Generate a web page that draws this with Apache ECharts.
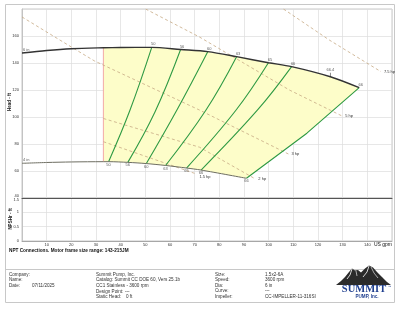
<!DOCTYPE html>
<html><head><meta charset="utf-8">
<script src="https://cdn.jsdelivr.net/npm/echarts@6/dist/echarts.min.js"></script>
<style>html,body{margin:0;padding:0;background:#fff}#c{width:400px;height:309px}</style>
</head><body><div id="c"></div>
<script>
// ---------- data ----------
const curve6in = [[0,147.4],[10,149.3],[20,150.6],[33,151.3],[40,151.5],[52.6,151.6],[64.3,150.0],[75.3,148.4],[87.0,144.7],[99.9,140.2],[109.3,137.3],[125.0,129.8],[136.7,121.7]];
const curve4in = [[0,65.7],[10,66.3],[20,66.7],[33,66.9],[35.1,66.9],[42.9,66.4],[50.4,65.5],[58.2,64.1],[66.7,62.2],[72.6,60.7],[91.0,54.6]];
const minFlow = [[33,66.9],[33,151.3]];
const eff50 = [[35.1,66.9],[43.8,105.2],[52.6,151.6]];
const eff56 = [[42.9,66.4],[53.9,103.7],[64.3,150.0]];
const eff60 = [[50.4,65.5],[62.8,105.2],[75.3,148.4]];
const eff63 = [[58.2,64.1],[74.6,105.2],[87.0,144.7]];
const eff65 = [[66.7,62.2],[86.8,105.2],[99.9,140.2]];
const eff66 = [[72.6,60.7],[95.5,105.2],[109.3,137.3]];
const edge66 = [[91.0,54.6],[115.5,88.0],[136.7,121.7]];
const hp7_5 = [[106,180],[124.6,157],[145.5,133.6]];
const hp5 = [[50.1,180],[71.9,159.3],[108.4,120],[129.8,100.7]];
const hp3 = [[0,174.1],[21.3,150.4],[29.4,141.5],[71.9,105.2],[108,72.6]];
const hp2 = [[33,98.9],[72,77.6],[94.6,54.1]];
const hp1_5 = [[33,81.7],[70.7,57.8]];
const effNames = ['50','56','60','63','65','66'];
const topLabels = [[52.6,151.6,'50'],[64.3,150.0,'56'],[75.3,148.4,'60'],[87.0,144.7,'63'],[99.9,140.2,'65'],[109.3,137.3,'66'],[136.7,121.7,'66']];
const bottomLabels = [[35.1,66.9,'50'],[42.9,66.4,'56'],[50.4,65.5,'60'],[58.2,64.1,'63'],[66.7,62.2,'65'],[72.6,60.7,'66'],[91.0,54.6,'66']];
const bep = [[125.0,129.8,'66.4']];
const curveNames = [[0,147.4,'6 in'],[0,65.7,'4 in']];
const hpNames = ['7.5 hp','5 hp','3 hp','2 hp','1.5 hp'];

// ---------- build ----------
const FONT = '"Liberation Sans", Arial, sans-serif';
const fillPoly = curve6in.filter(p => p[0] >= 33)
  .concat([edge66[1]])
  .concat(curve4in.filter(p => p[0] >= 33).reverse());

const chart = echarts.init(document.getElementById('c'), null, {renderer:'canvas'});
const lbl = {fontSize:4, color:'#333', fontFamily:FONT};

function effSeries(pts){
  return {type:'line', xAxisIndex:0, yAxisIndex:0, data:pts, symbol:'none', smooth:0.4, z:4,
    lineStyle:{color:'#2f9a44', width:1.1}, silent:true};
}
function hpSeries(pts, name, off){
  return {type:'line', xAxisIndex:0, yAxisIndex:0, data:pts, symbol:'none', z:3, silent:true,
    lineStyle:{color:'#c6aa84', width:0.8, type:[3,2.5]},
    endLabel:{show:true, formatter:name, distance:3, offset:off||[0,0], ...lbl}};
}
function labelSeries(arr, pos, off){
  return {type:'scatter', xAxisIndex:0, yAxisIndex:0, symbolSize:0, z:6, silent:true,
    data: arr.map(a => ({value:[a[0],a[1]], label:{formatter:a[2]}})),
    label:{show:true, position:pos, distance:1, offset:off||[0,0], ...lbl}};
}

const gridCommon = {left:22, right:8, show:true, borderColor:'#bbb', borderWidth:0.8, backgroundColor:'#fff'};
const xCommon = {type:'value', min:0, max:150, interval:10, axisTick:{show:false},
  splitLine:{show:true, lineStyle:{color:'#dcdcdc', width:0.7}}};

const option = {
  animation:false,
  grid:[{...gridCommon, top:9, height:189},{...gridCommon, top:198, height:43}],
  xAxis:[
    {...xCommon, gridIndex:0, axisLabel:{show:false}, axisLine:{show:true, onZero:false, lineStyle:{color:'#555', width:1}}},
    {...xCommon, gridIndex:1, axisLine:{show:true, onZero:false, lineStyle:{color:'#999', width:0.8}},
      axisLabel:{...lbl, margin:2, formatter:v => (v===0||v===150)?'':String(v)}}
  ],
  yAxis:[
    {type:'value', gridIndex:0, min:40, max:180, interval:20, axisTick:{show:false},
      axisLine:{show:true, lineStyle:{color:'#bbb', width:0.8}},
      splitLine:{show:true, lineStyle:{color:'#dcdcdc', width:0.7}},
      axisLabel:{...lbl, margin:3, showMaxLabel:false, verticalAlignMinLabel:'bottom'}},
    {type:'value', gridIndex:1, min:0, max:1.5, interval:0.5, axisTick:{show:false},
      axisLine:{show:true, lineStyle:{color:'#bbb', width:0.8}},
      splitLine:{show:true, lineStyle:{color:'#dcdcdc', width:0.7}},
      axisLabel:{...lbl, margin:3, verticalAlignMaxLabel:'top'}}
  ],
  series:[
    {type:'custom', xAxisIndex:0, yAxisIndex:0, z:1, silent:true, data:fillPoly,
      renderItem:(params, api) => {
        if (params.dataIndex !== 0) return;
        return {type:'polygon', shape:{points: fillPoly.map(p => api.coord(p))}, style:{fill:'#fdfdc9'}};
      }},
    {type:'line', xAxisIndex:0, yAxisIndex:0, data:minFlow, symbol:'none', z:3, silent:true,
      lineStyle:{color:'#f0a0a0', width:0.9}},
    hpSeries(hp7_5, hpNames[0]),
    hpSeries(hp5, hpNames[1]),
    hpSeries(hp3, hpNames[2]),
    hpSeries(hp2, hpNames[3]),
    hpSeries(hp1_5, hpNames[4], [0,3]),
    effSeries(eff50), effSeries(eff56), effSeries(eff60), effSeries(eff63), effSeries(eff65), effSeries(eff66),
    {type:'line', xAxisIndex:0, yAxisIndex:0, data:edge66, symbol:'none', z:4, silent:true,
      lineStyle:{color:'#2f9a44', width:1.1}},
    {type:'line', xAxisIndex:0, yAxisIndex:0, data:curve6in, symbol:'none', z:5, silent:true, smooth:0.3,
      lineStyle:{color:'#333', width:1.4}},
    {type:'line', xAxisIndex:0, yAxisIndex:0, data:curve4in, symbol:'none', z:5, silent:true, smooth:0.3,
      lineStyle:{color:'#6e6e62', width:1}},
    labelSeries(topLabels, 'top', [1.5,0]),
    labelSeries(bottomLabels, 'bottom', [0,0]),
    {type:'scatter', xAxisIndex:0, yAxisIndex:0, z:6, silent:true, symbol:'rect', symbolSize:[0.7,4], symbolOffset:[0,-2],
      itemStyle:{color:'#333'},
      data: bep.map(a => ({value:[a[0],a[1]], label:{formatter:a[2]}})),
      label:{show:true, position:'top', distance:1, ...lbl}},
    labelSeries(curveNames, 'right', [0,-3])
  ],
  graphic:[
    {type:'rect', shape:{x:5.5, y:4.5, width:389, height:298}, style:{fill:null, stroke:'#c8c8c8', lineWidth:1}, z:-10},
    {type:'line', shape:{x1:5.5, y1:269.5, x2:394.5, y2:269.5}, style:{stroke:'#c8c8c8', lineWidth:1}},
    {type:'text', x:10, y:102, rotation:Math.PI/2, style:{text:'Head - ft', font:'bold 4.5px '+FONT, fill:'#222', align:'center', verticalAlign:'middle'}},
    {type:'text', x:11, y:219, rotation:Math.PI/2, style:{text:'NPSHr - ft', font:'bold 4.5px '+FONT, fill:'#222', align:'center', verticalAlign:'middle'}},
    {type:'text', x:392, y:245, style:{text:'US gpm', font:'5px '+FONT, fill:'#111', align:'right', verticalAlign:'middle'}},
    {type:'text', x:9, y:250.5, style:{text:'NPT Connections. Motor frame size range: 143-215JM', font:'bold 4.7px '+FONT, fill:'#111', verticalAlign:'middle'}},
    // info block
    {type:'group', children:[
      ['Company:',9,274.3],['Name:',9,279.8],['Date:',9,285.3],['07/11/2025',32,285.3],
      ['Summit Pump, Inc.',96,274.3],['Catalog: Summit CC DOE 60, Vers 25.1b',96,280],['CC1 Stainless - 3600 rpm',96,285.8],
      ['Design Point:',96,291.5],['---',125,291.5],['Static Head:',96,297.2],['0 ft',126,297.2],
      ['Size:',215,274.3],['Speed:',215,279.8],['Dia:',215,285.3],['Curve:',215,290.8],['Impeller:',215,296.5],
      ['1.5x2-6A',265,274.3],['3600 rpm',265,279.8],['6 in',265,285.3],['---',265,290.8],['CC-IMPELLER-11-316SI',265,296.5]
    ].map(t => ({type:'text', x:t[1], y:t[2], style:{text:t[0], font:'4.6px '+FONT, fill:'#333', verticalAlign:'middle'}}))},
    // logo
    {type:'polygon', shape:{points:[[336,285],[341,281],[345,277],[349,272],[352,268.5],[355,270.5],[358,270],[361,272.5],[365,268.5],[369,265.5],[373,267.5],[377,272],[382,277],[387,282],[391,285]]}, style:{fill:'#2b2b2b'}},
    {type:'polyline', shape:{points:[[352,269],[350,275],[347,279]]}, style:{stroke:'#fff', lineWidth:0.8, fill:null}},
    {type:'polyline', shape:{points:[[369,266],[367,272],[363,277]]}, style:{stroke:'#fff', lineWidth:0.8, fill:null}},
    {type:'polyline', shape:{points:[[371,267],[374,273],[378,278]]}, style:{stroke:'#fff', lineWidth:0.6, fill:null}},
    {type:'polyline', shape:{points:[[356,271],[357,276]]}, style:{stroke:'#fff', lineWidth:0.6, fill:null}},
    {type:'text', x:364, y:289.5, style:{text:'SUMMIT', font:'bold 10.5px "Liberation Serif", serif', fill:'#1f3f8f', align:'center', verticalAlign:'middle'}},
    {type:'text', x:388, y:287.5, style:{text:'™', font:'3.5px '+FONT, fill:'#1f3f8f', verticalAlign:'middle'}},
    {type:'text', x:367, y:296.8, style:{text:'PUMP, Inc.', font:'bold 4.6px '+FONT, fill:'#1f3f8f', align:'center', verticalAlign:'middle'}}
  ]
};
chart.setOption(option);
</script></body></html>
